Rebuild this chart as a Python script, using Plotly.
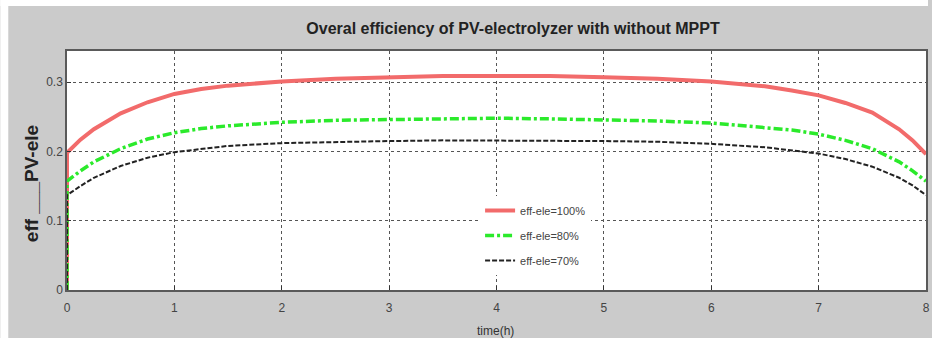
import plotly.graph_objects as go

# time axis (hours)
t = [0, 0, 0.125, 0.25, 0.5, 0.75, 1, 1.25, 1.5, 2, 2.5, 3, 3.5, 4, 4.5, 5, 5.5, 6, 6.5,
     6.75, 7, 7.25, 7.5, 7.75, 7.875, 8]

# overall efficiency for each electrolyzer efficiency
eff_100 = [0, 0.198, 0.217, 0.232, 0.255, 0.271, 0.283, 0.290, 0.295, 0.301, 0.305, 0.307,
           0.309, 0.309, 0.309, 0.307, 0.305, 0.301, 0.294, 0.288, 0.281, 0.270, 0.256,
           0.232, 0.216, 0.196]
eff_80 = [0, 0.157, 0.172, 0.185, 0.204, 0.218, 0.227, 0.233, 0.237, 0.242, 0.245, 0.246,
          0.247, 0.248, 0.247, 0.246, 0.244, 0.241, 0.235, 0.231, 0.225, 0.216, 0.204,
          0.185, 0.172, 0.157]
eff_70 = [0, 0.137, 0.150, 0.162, 0.179, 0.191, 0.199, 0.204, 0.208, 0.212, 0.214, 0.215,
          0.216, 0.216, 0.216, 0.215, 0.214, 0.211, 0.206, 0.202, 0.197, 0.189, 0.178,
          0.162, 0.151, 0.137]

names = ["eff-ele=100%", "eff-ele=80%", "eff-ele=70%"]
x_ticks = [0, 1, 2, 3, 4, 5, 6, 7, 8]
y_ticks = [0, 0.1, 0.2, 0.3]

GRAY = "#cbcbcb"
W, H = 932, 338
L, R, T, B = 67, 2, 51, 48
pw, ph = W - L - R, H - T - B
NARROW = "Liberation Sans Narrow, Liberation Sans, Arial"

fig = go.Figure()
fig.add_trace(go.Scatter(x=t, y=eff_100, name=names[0], mode="lines", legendgroup="a",
                         line=dict(color="#f26b6b", width=4)))
fig.add_trace(go.Scatter(x=t, y=eff_80, name=names[1], mode="lines", legendgroup="b",
                         line=dict(color="#2bea2b", width=3.5, dash="9px,3px,3px,3px")))
fig.add_trace(go.Scatter(x=t, y=eff_70, name=names[2], mode="lines", legendgroup="c",
                         line=dict(color="#222222", width=2, dash="5px,2px")))

axis_common = dict(
    showline=True, linecolor="#5a5a5a", linewidth=1.5, mirror=True,
    ticks="inside", ticklen=4, tickcolor="#333",
    showgrid=True, gridcolor="#555", griddash="dot", gridwidth=1,
    zeroline=False, tickfont=dict(family=NARROW, size=12, color="#444"),
)

fig.update_xaxes(range=[0, 8], tickvals=x_ticks, ticklabelstandoff=6, **axis_common)
fig.update_yaxes(range=[0, 0.345], tickvals=y_ticks, ticktext=["0", "0.1", "0.2", "0.3"], **axis_common)

# white margins of the figure window around the gray frame
shapes = [
    dict(type="rect", xref="paper", yref="paper", layer="below",
         x0=-L / pw, x1=(8 - L) / pw, y0=-B / ph, y1=(H - B) / ph,
         fillcolor="white", line=dict(width=0)),
    dict(type="rect", xref="paper", yref="paper", layer="below",
         x0=-L / pw, x1=(W - L) / pw, y0=(H - B - 6) / ph, y1=(H - B) / ph,
         fillcolor="white", line=dict(width=0)),
]

fig.update_layout(
    width=W, height=H,
    margin=dict(l=L, r=R, t=T, b=B),
    paper_bgcolor=GRAY, plot_bgcolor="white",
    shapes=shapes,
    showlegend=True,
    legend=dict(x=(482 - L) / pw, y=(290 - 196) / ph, xanchor="left", yanchor="top",
                bgcolor="white", borderwidth=0,
                font=dict(family=NARROW, size=11, color="#444"),
                tracegroupgap=6),
    title=dict(text="<b>Overal efficiency of PV-electrolyzer with without MPPT</b>",
               x=513 / W, xanchor="center", y=1 - 28 / H, yanchor="middle",
               font=dict(family=NARROW, size=16, color="#222")),
    annotations=[
        dict(text="<b>eff ___PV-ele</b>", xref="paper", yref="paper",
             x=(31 - L) / pw, y=(290 - 184) / ph, xanchor="center", yanchor="middle",
             textangle=-90, showarrow=False,
             font=dict(family="Liberation Sans, Arial", size=19, color="#222")),
        dict(text="time(h)", xref="paper", yref="paper",
             x=(497 - L) / pw, y=(290 - 331) / ph, xanchor="center", yanchor="middle",
             showarrow=False,
             font=dict(family=NARROW, size=12, color="#333")),
    ],
)

fig.write_html("out.html")
